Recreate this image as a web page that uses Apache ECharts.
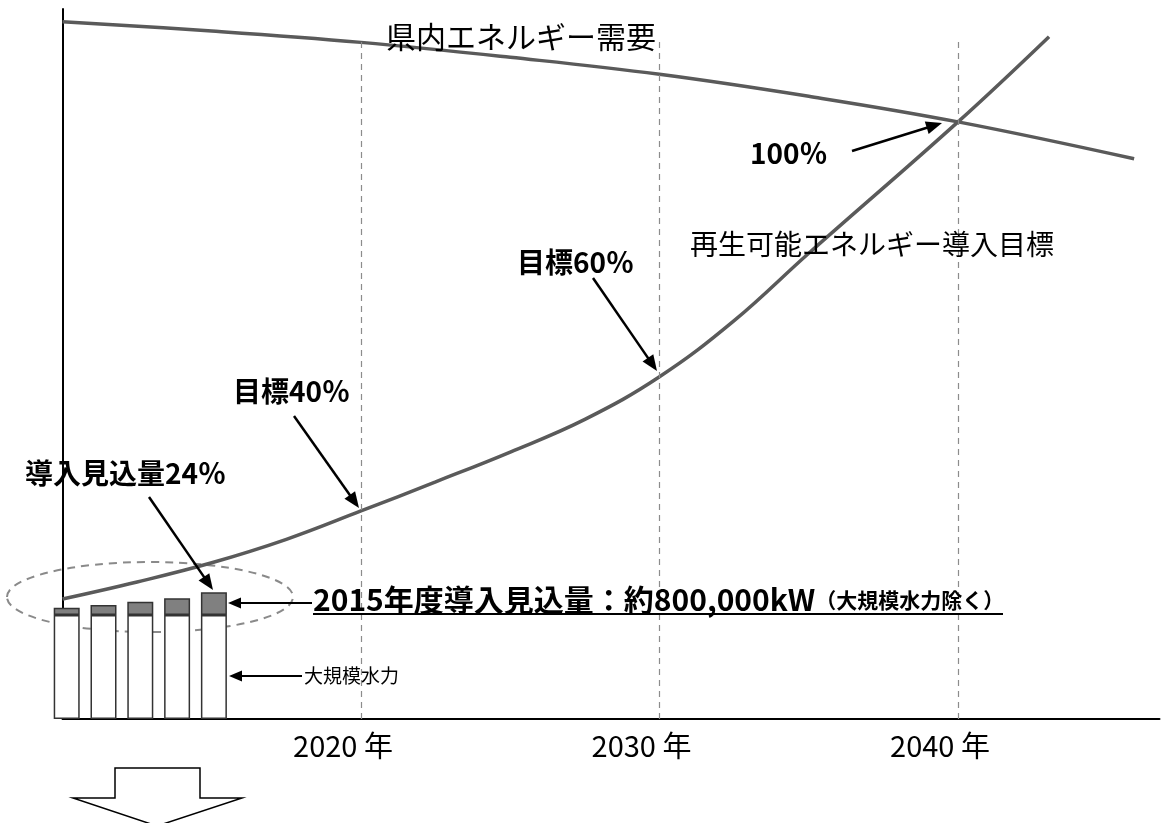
<!DOCTYPE html>
<html><head><meta charset="utf-8">
<script src="https://cdn.jsdelivr.net/npm/echarts@6/dist/echarts.min.js"></script>
<style>html,body{margin:0;padding:0;background:#fff}#c{width:1170px;height:823px}</style>
</head><body><div id="c"></div>
<script>
// ---- data ----
const demandYears = [2010, 2015, 2020, 2025, 2030, 2035, 2040, 2045.9];
const demandValues = [98.2, 96.9, 95.3, 93.2, 90.8, 87.7, 84.1, 78.9];
const renewYears = [2010, 2012.5, 2015, 2017.5, 2020, 2022.5, 2025, 2027.5, 2030, 2032.5, 2035, 2040, 2043.05];
const renewValues = [16.9, 19.3, 22.0, 25.3, 29.3, 33.4, 37.6, 42.2, 48.2, 56.1, 65.6, 84.1, 96.1];
const yearTicks = [2020, 2030, 2040];
const yearLabels = ['2020 年', '2030 年', '2040 年'];
const barCategories = ['2011', '2012', '2013', '2014', '2015'];
const hydroValues = [14.65, 14.65, 14.65, 14.65, 14.65];
const renewBarValues = [1.03, 1.41, 1.87, 2.35, 3.2];
const dashTop = 96;

const FONT = "'Noto Sans CJK JP', 'Noto Sans CJK SC', sans-serif";
const chart = echarts.init(document.getElementById('c'), null, {renderer: 'canvas'});

function arrow(x1, y1, x2, y2, hl, hw, lw) {
  const dx = x2 - x1, dy = y2 - y1, L = Math.hypot(dx, dy), ux = dx / L, uy = dy / L;
  const bx = x2 - ux * hl, by = y2 - uy * hl, px = -uy, py = ux;
  return [
    {type: 'line', z: 100, shape: {x1: x1, y1: y1, x2: bx + ux, y2: by + uy}, style: {stroke: '#000', lineWidth: lw}},
    {type: 'polygon', z: 100, shape: {points: [[x2, y2], [bx + px * hw / 2, by + py * hw / 2], [bx - px * hw / 2, by - py * hw / 2]]}, style: {fill: '#000'}}
  ];
}
function txt(x, y, text, size, bold) {
  return {type: 'text', z: 100, x: x, y: y, style: {text: text, fill: '#000', font: (bold ? 'bold ' : '') + size + 'px ' + FONT, align: 'left', verticalAlign: 'middle'}};
}

const graphics = [
  {type: 'ellipse', z: 1, shape: {cx: 150, cy: 597, rx: 143, ry: 35}, style: {fill: 'none', stroke: '#8a8a8a', lineWidth: 2, lineDash: [8, 6]}},
  txt(386, 37, '県内エネルギー需要', 30, false),
  txt(690, 244, '再生可能エネルギー導入目標', 28, false),
  txt(304, 676, '大規模水力', 19, false),
  txt(25, 473, '導入見込量24％', 28, true),
  txt(233, 391, '目標40％', 28, true),
  txt(517, 262, '目標60％', 28, true),
  txt(750, 153, '100％', 28, true),
  {type: 'text', z: 100, x: 313, y: 600, style: {
    text: '{a|2015年度導入見込量：約800,000kW}{b|（大規模水力除く）}',
    align: 'left', verticalAlign: 'middle',
    rich: {
      a: {font: 'bold 30px ' + FONT, fill: '#000'},
      b: {font: 'bold 21px ' + FONT, fill: '#000'}
    }
  }},
  {type: 'line', z: 100, shape: {x1: 313, y1: 614, x2: 1003, y2: 614}, style: {stroke: '#000', lineWidth: 2}},
  {type: 'polygon', z: 100, shape: {points: [[115, 768], [200, 768], [200, 798], [242, 798], [157, 826], [73, 798], [115, 798]]}, style: {fill: '#fff', stroke: '#000', lineWidth: 1.5}}
].concat(
  arrow(852, 151, 942, 123, 16, 13, 2.5),
  arrow(593, 278, 657, 371, 16, 13, 2.5),
  arrow(294, 416, 359, 508, 16, 13, 2.5),
  arrow(149, 497, 213, 590, 16, 13, 2.5),
  arrow(312, 603, 228, 603, 13, 11, 2),
  arrow(302, 676, 229, 676, 13, 11, 2)
);

const option = {
  animation: false,
  backgroundColor: '#fff',
  grid: [
    {left: 62.5, right: 10.5, top: 9, bottom: 104},
    {left: 48.3, width: 184, top: 9, bottom: 104}
  ],
  xAxis: [
    {type: 'value', gridIndex: 0, min: 2010, max: 2046.75, interval: 10,
     axisLine: {show: true, onZero: false, lineStyle: {color: '#000', width: 2}},
     axisTick: {show: false}, splitLine: {show: false},
     axisLabel: {show: true, color: '#000', fontSize: 29, fontFamily: FONT, margin: 12, padding: [0, 36, 0, 0],
       formatter: function (v) { const i = yearTicks.indexOf(Math.round(v)); return (i >= 0 && Math.abs(v - yearTicks[i]) < 0.01) ? yearLabels[i] : ''; }}},
    {type: 'category', gridIndex: 1, data: barCategories, show: false}
  ],
  yAxis: [
    {type: 'value', gridIndex: 0, min: 0, max: 100,
     axisLine: {show: true, lineStyle: {color: '#000', width: 2}},
     axisTick: {show: false}, axisLabel: {show: false}, splitLine: {show: false}},
    {type: 'value', gridIndex: 1, min: 0, max: 100, show: false}
  ],
  series: [
    {type: 'line', xAxisIndex: 0, yAxisIndex: 0, z: 1, data: [], silent: true,
     markLine: {silent: true, symbol: ['none', 'none'], label: {show: false},
       lineStyle: {type: [6, 5], color: '#8c8c8c', width: 1.2},
       data: yearTicks.map(function (y) { return [{coord: [y, 0]}, {coord: [y, dashTop]}]; })}},
    {type: 'line', name: '県内エネルギー需要', xAxisIndex: 0, yAxisIndex: 0, z: 3, smooth: 0.4, symbol: 'none',
     lineStyle: {color: '#5a5a5a', width: 3.5},
     data: demandYears.map(function (y, i) { return [y, demandValues[i]]; })},
    {type: 'line', name: '再生可能エネルギー導入目標', xAxisIndex: 0, yAxisIndex: 0, z: 3, smooth: 0.4, symbol: 'none',
     lineStyle: {color: '#5a5a5a', width: 3.5},
     data: renewYears.map(function (y, i) { return [y, renewValues[i]]; })},
    {type: 'bar', name: '大規模水力', xAxisIndex: 1, yAxisIndex: 1, stack: 'a', barWidth: 26, z: 2,
     itemStyle: {color: '#fff', borderColor: '#333', borderWidth: 1.5}, data: hydroValues},
    {type: 'bar', name: '導入見込量', xAxisIndex: 1, yAxisIndex: 1, stack: 'a', barWidth: 26, z: 2,
     itemStyle: {color: '#808080', borderColor: '#333', borderWidth: 1.5}, data: renewBarValues}
  ],
  graphic: graphics
};
chart.setOption(option);
</script>
</body></html>
